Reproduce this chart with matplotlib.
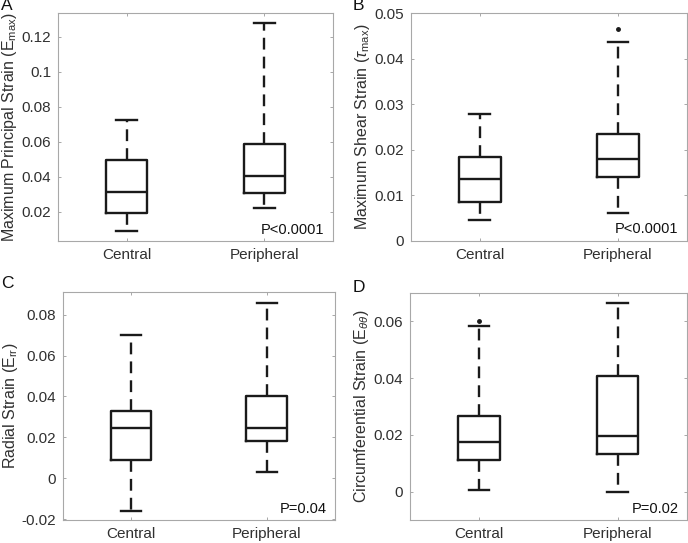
import numpy as np
import matplotlib
matplotlib.use('Agg')
import matplotlib.pyplot as plt

plt.rcParams['font.family'] = ['Liberation Sans', 'DejaVu Sans']
plt.rcParams['mathtext.fontset'] = 'custom'
plt.rcParams['mathtext.rm'] = 'Liberation Sans'
plt.rcParams['mathtext.it'] = 'Liberation Sans:italic'

groups = ['Central', 'Peripheral']

# box stats: lower whisker, Q1, median, Q3, upper whisker, outliers
emax_central = [0.0093, 0.0196, 0.0316, 0.0499, 0.0727]
emax_periph = [0.0223, 0.0310, 0.0407, 0.0590, 0.1278]
emax_fliers = [[], []]

tau_central = [0.0046, 0.0086, 0.0135, 0.0184, 0.0279]
tau_periph = [0.0060, 0.0140, 0.0179, 0.0235, 0.0438]
tau_fliers = [[], [0.0465]]

err_central = [-0.0161, 0.0091, 0.0245, 0.0329, 0.0702]
err_periph = [0.0032, 0.0182, 0.0244, 0.0402, 0.0859]
err_fliers = [[], []]

ett_central = [0.0008, 0.0111, 0.0174, 0.0265, 0.0582]
ett_periph = [0.0000, 0.0132, 0.0197, 0.0409, 0.0665]
ett_fliers = [[0.0601], []]

panels = [
    ('A', r'Maximum Principal Strain (E$_{\rm max}$)', emax_central, emax_periph, emax_fliers,
     'P<0.0001', (0.0034, 0.1337), [0.02, 0.04, 0.06, 0.08, 0.1, 0.12]),
    ('B', r'Maximum Shear Strain ($\tau_{\rm max}$)', tau_central, tau_periph, tau_fliers,
     'P<0.0001', (0, 0.05), [0, 0.01, 0.02, 0.03, 0.04, 0.05]),
    ('C', r'Radial Strain (E$_{\rm rr}$)', err_central, err_periph, err_fliers,
     'P=0.04', (-0.0206, 0.0911), [-0.02, 0, 0.02, 0.04, 0.06, 0.08]),
    ('D', r'Circumferential Strain (E$_{\theta\theta}$)', ett_central, ett_periph, ett_fliers,
     'P=0.02', (-0.01, 0.07), [0, 0.02, 0.04, 0.06]),
]

# axes rectangles in figure fraction
rects = [
    [0.0843, 0.5562, 0.3997, 0.4199],
    [0.5970, 0.5567, 0.4016, 0.4188],
    [0.0920, 0.0418, 0.3942, 0.4204],
    [0.5955, 0.0418, 0.4030, 0.4190],
]
letter_pos = [(0.002, 0.989), (0.512, 0.989), (0.002, 0.478), (0.512, 0.470)]

fig = plt.figure(figsize=(6.88, 5.43), dpi=100)

def fmt(v):
    s = ('%.2f' % v).rstrip('0').rstrip('.')
    if s == '-0':
        s = '0'
    return s

for (letter, ylab, cen, per, fl, ptxt, ylim, yt), rect, lp in zip(panels, rects, letter_pos):
    ax = fig.add_axes(rect)
    stats = []
    for name, s, f in zip(groups, [cen, per], fl):
        stats.append(dict(label=name, whislo=s[0], q1=s[1], med=s[2], q3=s[3], whishi=s[4], fliers=f))
    lw = 1.7
    ax.bxp(stats, positions=[1, 2], widths=0.3, capwidths=0.15,
           boxprops=dict(color='#1a1a1a', linewidth=lw),
           medianprops=dict(color='#1a1a1a', linewidth=lw),
           whiskerprops=dict(color='#1a1a1a', linewidth=lw, linestyle=(0, (5, 3))),
           capprops=dict(color='#1a1a1a', linewidth=lw),
           flierprops=dict(marker='o', markersize=2.5, markerfacecolor='#1a1a1a',
                           markeredgecolor='#1a1a1a'))
    ax.set_xlim(0.5, 2.5)
    ax.set_ylim(*ylim)
    ax.set_yticks(yt)
    ax.set_yticklabels([fmt(v) for v in yt])
    ax.set_xticks([1, 2])
    ax.set_xticklabels(groups)
    ax.tick_params(direction='in', length=2.5, width=0.6, color='#9a9a9a',
                   labelcolor='#303030', labelsize=11, top=True, right=True, pad=5)
    for sp in ax.spines.values():
        sp.set_color('#a8a8a8')
        sp.set_linewidth(0.8)
    ax.set_ylabel(ylab, fontsize=11.5, color='#303030', labelpad=1.5)
    ax.text(0.97, 0.05, ptxt, transform=ax.transAxes, ha='right', va='center',
            fontsize=10.5, color='#111111')
    fig.text(lp[0], lp[1], letter, ha='left', va='center', fontsize=12.5, color='#111111')

fig.savefig('out.png', dpi=100)
